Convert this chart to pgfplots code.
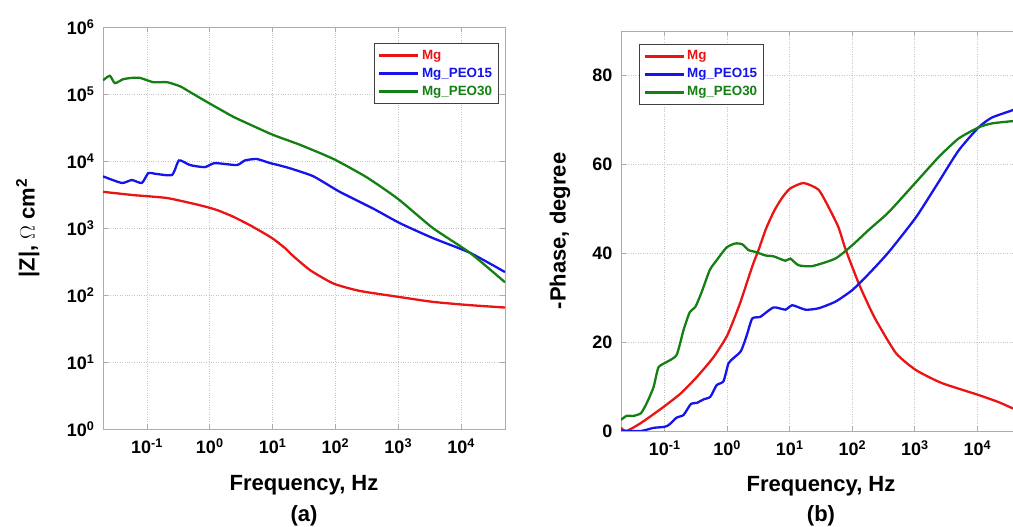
\documentclass[border=0pt]{standalone}
\usepackage{fontspec}
\setmainfont{Liberation Sans}
\usepackage{pgfplots}
\pgfplotsset{compat=1.18}

\definecolor{cr}{RGB}{235,20,20}
\definecolor{cb}{RGB}{20,20,235}
\definecolor{cg}{RGB}{20,128,20}
\newcommand\tp[1]{10\textsuperscript{#1}}

\pgfplotsset{
  scale only axis,
  grid=major, major grid style={gray!45, dotted, line width=0.7pt},
  axis line style={gray!65, line width=0.8pt},
  tick style={gray!65, line width=0.8pt},
  major tick length=5pt, tick align=inside, tick pos=both,
  ticklabel style={font=\bfseries\fontsize{18}{20}\selectfont},
  xticklabel shift=6pt, yticklabel shift=5pt,
  label style={font=\bfseries\fontsize{22}{26}\selectfont},
  title style={font=\bfseries\fontsize{22}{26}\selectfont, anchor=center},
  every axis plot/.append style={line width=2.3pt, smooth, tension=0.35},
  legend cell align=left,
  legend image code/.code={\draw[#1, line width=2.2pt, sharp plot] (0pt,0pt) -- (39pt,0pt);},
  legend style={draw=black!75, line width=0.9pt,
    font=\bfseries\fontsize{13.4}{15}\selectfont,
    row sep=0pt, inner xsep=4pt, inner ysep=3pt,
    nodes={text height=10pt, text depth=3pt, inner sep=2.5pt}},
}

\begin{document}
\begin{tikzpicture}
\useasboundingbox (0,0) rectangle (1013pt,527pt);
\clip (0,0) rectangle (1013pt,527pt);

% (a) impedance modulus
\begin{axis}[at={(103pt,98pt)}, anchor=south west, width=402pt, height=402pt,
  xmode=log, ymode=log, xmin=0.02, xmax=50000, ymin=1, ymax=1000000,
  xminorticks=false, yminorticks=false,
  xtick={0.1,1,10,100,1000,10000},
  xticklabels={\tp{-1},\tp{0},\tp{1},\tp{2},\tp{3},\tp{4}},
  ytick={1,10,100,1000,10000,100000,1000000},
  yticklabels={\tp{0},\tp{1},\tp{2},\tp{3},\tp{4},\tp{5},\tp{6}},
  xlabel={Frequency, Hz},
  ylabel={|Z|, $\Omega$ cm\textsuperscript{2}},
  ylabel style={at={(axis description cs:-0.187,0.5)}, anchor=center},
  xlabel style={at={(axis description cs:0.5,-0.14)}, anchor=center},
  title={(a)}, title style={at={(axis description cs:0.5,-0.232)}},
  legend style={at={(0.985,0.96)}, anchor=north east}]
\addplot[draw=cr, color=cr] coordinates {
(0.0200,3470) (0.0603,3100) (0.209,2800) (0.692,2190) (1.29,1860)
(2.34,1480) (4.37,1100) (7.08,850) (10.2,690) (15.8,500) (21.4,380)
(39.8,234) (93.3,148) (245,115) (1072,93) (3548,79) (12590,71)
(50000,65)};
\addplot[draw=cb, color=cb] coordinates {
(0.0200,5900) (0.0398,4700) (0.0575,5200) (0.0832,4700) (0.105,6600)
(0.135,6450) (0.251,6200) (0.324,10200) (0.484,8700) (0.832,8100)
(1.20,9300) (2.69,8700) (3.63,10200) (5.62,10700) (9.12,9300)
(12.3,8700) (19.1,7760) (44.7,5900) (117,3470) (398,1950)
(1072,1175) (3548,708) (13800,427) (50000,220)};
\addplot[draw=cg, color=cg] coordinates {
(0.0200,160000) (0.0257,187000) (0.0309,145000) (0.0417,166000)
(0.0575,174000) (0.0776,174000) (0.126,150000) (0.209,150000)
(0.339,130000) (0.484,107000) (1.00,72000) (2.34,46000) (4.37,35000)
(10.2,24500) (27.5,17400) (93.3,10700) (316,5700) (1000,2700)
(3548,1000) (13800,427) (50000,155)};
\legend{\textcolor{cr}{Mg},\textcolor{cb}{Mg\_PEO15},\textcolor{cg}{Mg\_PEO30}}
\end{axis}

% (b) phase angle
\begin{axis}[at={(621pt,96pt)}, anchor=south west, width=400pt, height=400pt,
  xmode=log, xmin=0.02, xmax=50000, xminorticks=false,
  xtick={0.1,1,10,100,1000,10000},
  xticklabels={\tp{-1},\tp{0},\tp{1},\tp{2},\tp{3},\tp{4}},
  ymin=0, ymax=90, ytick={0,20,40,60,80},
  yticklabels={0,20,40,60,80},
  xlabel={Frequency, Hz},
  ylabel={-Phase, degree},
  ylabel style={at={(axis description cs:-0.1525,0.5)}, anchor=center},
  xlabel style={at={(axis description cs:0.5,-0.137)}, anchor=center},
  title={(b)}, title style={at={(axis description cs:0.5,-0.228)}},
  legend style={at={(0.045,0.9675)}, anchor=north west}]
\addplot[draw=cr, color=cr] coordinates {
(0.0200,0.7) (0.0245,0.0) (0.0417,1.8) (0.0955,5.4) (0.182,8.5)
(0.324,12.1) (0.603,16.6) (1.00,21.5) (1.58,28.5) (2.51,37.0)
(3.16,40.7) (4.17,45.5) (5.62,49.5) (7.41,52.3) (10.0,54.5)
(16.6,55.8) (28.8,54.3) (41.7,50.4) (60.3,45.8) (77.6,41.0)
(126,33.3) (182,28.3) (240,24.9) (501,17.5) (1047,13.7) (2692,10.8)
(10470,8.1) (21880,6.5) (35480,5.2) (50000,4.4)};
\addplot[draw=cb, color=cb] coordinates {
(0.0200,0) (0.0417,0) (0.0661,0.7) (0.0955,0.9) (0.115,1.3)
(0.155,3.0) (0.200,3.6) (0.263,6.1) (0.324,6.3) (0.417,7.1)
(0.537,7.7) (0.676,10.3) (0.871,11.2) (1.047,15.2) (1.26,16.4)
(1.66,18.0) (2.04,21.4) (2.51,25.3) (3.39,25.7) (5.50,27.8)
(8.51,27.3) (11.0,28.3) (17.8,27.3) (28.8,27.6) (53.7,29.1)
(100,31.7) (182,35.3) (380,40.2) (1047,48.1) (2399,56.0)
(5012,63.1) (10470,68.3) (16980,70.5) (35480,72.1) (50000,72.8)};
\addplot[draw=cg, color=cg] coordinates {
(0.0200,2.5) (0.0245,3.4) (0.0316,3.4) (0.0417,4.0) (0.0513,6.2)
(0.0661,9.8) (0.0794,14.3) (0.107,15.5) (0.155,17.1) (0.200,22.7)
(0.251,26.7) (0.309,27.9) (0.389,31.2) (0.525,36.2) (0.676,38.4)
(0.977,41.3) (1.35,42.2) (1.74,42.0) (2.19,40.7) (2.82,40.3)
(4.07,39.5) (5.50,39.3) (8.51,38.3) (10.2,38.8) (13.8,37.3)
(22.9,37.1) (53.7,38.8) (100,41.8) (182,45.2) (380,49.2)
(1047,56.0) (2399,61.6) (5012,65.8) (10470,68.3) (16980,69.2)
(35480,69.7) (50000,69.8)};
\legend{\textcolor{cr}{Mg},\textcolor{cb}{Mg\_PEO15},\textcolor{cg}{Mg\_PEO30}}
\end{axis}
\end{tikzpicture}
\end{document}
